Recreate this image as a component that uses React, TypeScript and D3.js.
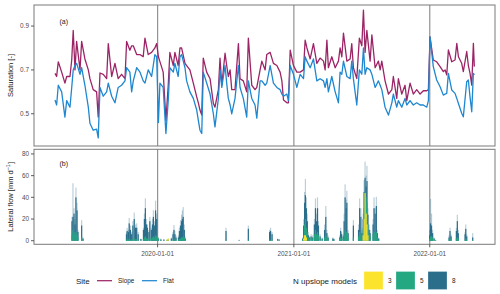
import React from "react";
import * as d3 from "d3";

// ---- Saturation data (decimal year, slope, flat) ----
const satTime = [
  2019.245, 2019.257, 2019.269, 2019.294, 2019.318, 2019.331, 2019.355, 2019.368, 2019.379, 2019.392,
  2019.404, 2019.429, 2019.441, 2019.465, 2019.49, 2019.502, 2019.526, 2019.551, 2019.563, 2019.576,
  2019.6, 2019.625, 2019.637, 2019.662, 2019.686, 2019.71, 2019.735, 2019.76, 2019.772, 2019.796,
  2019.809, 2019.821, 2019.846, 2019.87, 2019.894, 2019.907, 2019.931, 2019.956, 2019.98, 2019.993,
  2020.006, 2020.017, 2020.041, 2020.061, 2020.078, 2020.09, 2020.115, 2020.127, 2020.151, 2020.164,
  2020.176, 2020.201, 2020.213, 2020.237, 2020.262, 2020.287, 2020.299, 2020.311, 2020.324, 2020.335,
  2020.36, 2020.385, 2020.409, 2020.421, 2020.446, 2020.458, 2020.471, 2020.495, 2020.507, 2020.519,
  2020.532, 2020.544, 2020.568, 2020.593, 2020.605, 2020.629, 2020.654, 2020.666, 2020.691, 2020.715,
  2020.728, 2020.752, 2020.765, 2020.789, 2020.801, 2020.826, 2020.85, 2020.875, 2020.899, 2020.912,
  2020.924, 2020.949, 2020.96, 2020.973, 2020.997, 2021.022, 2021.046, 2021.071, 2021.083, 2021.096,
  2021.12, 2021.144, 2021.169, 2021.193, 2021.218, 2021.23, 2021.243, 2021.254, 2021.279, 2021.304,
  2021.328, 2021.34, 2021.353, 2021.365, 2021.39, 2021.414, 2021.426, 2021.438, 2021.463, 2021.482,
  2021.5, 2021.512, 2021.524, 2021.537, 2021.561, 2021.574, 2021.598, 2021.622, 2021.635, 2021.647,
  2021.671, 2021.696, 2021.721, 2021.732, 2021.757, 2021.769, 2021.794, 2021.818, 2021.831, 2021.855,
  2021.879, 2021.904, 2021.929, 2021.953, 2021.978, 2021.99, 2022.002, 2022.026, 2022.051, 2022.076,
  2022.1, 2022.113, 2022.125, 2022.137, 2022.162, 2022.186, 2022.199, 2022.211, 2022.235, 2022.247,
  2022.272, 2022.284, 2022.296, 2022.309, 2022.321, 2022.328,
];
const satSlope = [
  0.684, 0.67, 0.737, 0.69, 0.64, 0.67, 0.67, 0.745, 0.88, 0.7,
  0.83, 0.7, 0.83, 0.75, 0.7, 0.66, 0.61, 0.6, 0.485, 0.686,
  0.68, 0.66, 0.82, 0.67, 0.73, 0.66, 0.68, 0.66, 0.83, 0.79,
  0.81, 0.81, 0.77, 0.77, 0.76, 0.845, 0.77, 0.78, 0.8, 0.82,
  0.76, 0.738, 0.69, 0.47, 0.63, 0.78, 0.72, 0.78, 0.72, 0.8,
  0.8, 0.73, 0.72, 0.7, 0.64, 0.577, 0.55, 0.517, 0.494, 0.754,
  0.69, 0.66, 0.548, 0.53, 0.61, 0.754, 0.63, 0.776, 0.72, 0.67,
  0.7, 0.61, 0.61, 0.82, 0.66, 0.65, 0.6, 0.845, 0.63, 0.61,
  0.62, 0.7, 0.74, 0.7, 0.77, 0.78, 0.73, 0.72, 0.69, 0.65,
  0.563, 0.55, 0.55, 0.79, 0.72, 0.69, 0.69, 0.7, 0.836, 0.8,
  0.75, 0.82, 0.73, 0.754, 0.74, 0.7, 0.836, 0.71, 0.76, 0.71,
  0.74, 0.8, 0.76, 0.868, 0.74, 0.75, 0.82, 0.71, 0.66, 0.845,
  0.81, 0.973, 0.78, 0.88, 0.74, 0.86, 0.71, 0.74, 0.7, 0.74,
  0.65, 0.59, 0.61, 0.67, 0.57, 0.66, 0.59, 0.63, 0.56, 0.64,
  0.59, 0.61, 0.59, 0.605, 0.605, 0.61, 0.85, 0.745, 0.737, 0.715,
  0.692, 0.7, 0.677, 0.791, 0.737, 0.745, 0.821, 0.76, 0.73, 0.692,
  0.784, 0.72, 0.685, 0.631, 0.821, 0.715,
];
const satFlat = [
  0.563, 0.54, 0.63, 0.6, 0.485, 0.56, 0.53, 0.62, 0.7, 0.72,
  0.73, 0.68, 0.71, 0.63, 0.53, 0.457, 0.425, 0.43, 0.39, 0.62,
  0.58, 0.6, 0.64, 0.58, 0.55, 0.62, 0.63, 0.65, 0.71, 0.69,
  0.6, 0.65, 0.71, 0.69, 0.65, 0.64, 0.7, 0.67, 0.77, 0.76,
  0.46, 0.64, 0.62, 0.41, 0.56, 0.71, 0.69, 0.73, 0.67, 0.76,
  0.77, 0.71, 0.65, 0.6, 0.57, 0.517, 0.47, 0.425, 0.41, 0.69,
  0.64, 0.59, 0.5, 0.44, 0.57, 0.7, 0.62, 0.72, 0.64, 0.57,
  0.54, 0.5, 0.57, 0.72, 0.62, 0.57, 0.485, 0.65, 0.57, 0.54,
  0.48, 0.65, 0.65, 0.63, 0.64, 0.72, 0.64, 0.62, 0.61, 0.59,
  0.58, 0.59, 0.56, 0.72, 0.68, 0.62, 0.68, 0.66, 0.76, 0.74,
  0.71, 0.75, 0.65, 0.66, 0.65, 0.62, 0.66, 0.6, 0.67, 0.6,
  0.55, 0.69, 0.68, 0.74, 0.67, 0.66, 0.74, 0.66, 0.54, 0.7,
  0.68, 0.8, 0.68, 0.71, 0.7, 0.68, 0.62, 0.65, 0.63, 0.61,
  0.53, 0.494, 0.55, 0.59, 0.53, 0.56, 0.53, 0.57, 0.54, 0.56,
  0.54, 0.55, 0.54, 0.54, 0.53, 0.56, 0.85, 0.715, 0.654, 0.623,
  0.585, 0.59, 0.593, 0.684, 0.608, 0.593, 0.57, 0.547, 0.502, 0.486,
  0.646, 0.654, 0.578, 0.509, 0.684, 0.677,
];

// ---- Lateral flow data (decimal year; light envelope, 8, 5, 3 models) ----
const flowTime = [
  2019.37, 2019.377, 2019.385, 2019.392, 2019.399, 2019.407, 2019.414, 2019.441, 2019.451,
  2019.771, 2019.776, 2019.785, 2019.791, 2019.8, 2019.809, 2019.818, 2019.828, 2019.837, 2019.846,
  2019.857, 2019.877, 2019.896, 2019.903, 2019.91, 2019.918, 2019.925, 2019.936, 2019.943, 2019.954,
  2019.962, 2019.969, 2019.976, 2019.985, 2019.993, 2020.006, 2020.024, 2020.046, 2020.068, 2020.078,
  2020.101, 2020.113, 2020.12, 2020.127, 2020.135, 2020.153, 2020.16, 2020.168, 2020.176, 2020.182,
  2020.188, 2020.196, 2020.203, 2020.502, 2020.598, 2020.666, 2020.822, 2020.829, 2020.84, 2020.881,
  2020.892, 2021.065, 2021.072, 2021.079, 2021.085, 2021.092, 2021.099, 2021.107, 2021.116, 2021.127,
  2021.138, 2021.151, 2021.159, 2021.166, 2021.174, 2021.181, 2021.193, 2021.208, 2021.226, 2021.235,
  2021.243, 2021.252, 2021.287, 2021.294, 2021.337, 2021.344, 2021.351, 2021.363, 2021.37, 2021.377,
  2021.385, 2021.39, 2021.399, 2021.438, 2021.476, 2021.484, 2021.493, 2021.501, 2021.51, 2021.517,
  2021.524, 2021.532, 2021.538, 2021.545, 2021.554, 2021.561, 2021.583, 2021.59, 2021.598, 2021.607,
  2021.614, 2021.624, 2021.999, 2022.006, 2022.013, 2022.021, 2022.032, 2022.043, 2022.142, 2022.149,
  2022.157, 2022.196, 2022.203, 2022.21, 2022.26, 2022.265, 2022.272, 2022.316,
];
const flowMax = [
  22, 53, 30, 20, 49, 35, 10, 19, 3,
  8, 12, 10, 21, 14, 8, 18, 26, 15, 16,
  8, 2, 12, 25, 39, 20, 15, 10, 22, 12,
  20, 28, 18, 37, 25, 3, 2, 1.5, 1, 2,
  3, 8, 14.5, 9, 5, 5, 12, 19, 24, 28,
  31, 15, 4, 12, 1, 14, 10, 12, 8, 2,
  1.5, 3, 20, 45, 57, 40, 25, 8, 4, 6,
  5, 20, 39, 25, 40, 18, 6, 3, 15, 32,
  10, 5, 3, 2, 5, 12, 8, 6, 25, 52,
  38, 46, 10, 19, 15, 39, 30, 10, 25, 56,
  73, 60, 69, 30, 15, 10, 20, 40, 30, 40.5,
  10, 3, 10, 38.5, 25, 10, 3, 1, 5, 12,
  6, 12, 24, 10, 8, 15, 6, 7,
];
const flow8 = [
  18, 22, 25, 15, 40, 28, 8, 14, 2,
  6, 9, 8, 16, 10, 6, 14, 20, 12, 12,
  6, 1.5, 10, 20, 30, 15, 12, 8, 18, 10,
  15, 22, 14, 28, 20, 2, 1, 1, 0.5, 1,
  2, 6, 10, 6, 3, 3, 9, 14, 18, 20,
  22, 10, 2, 9, 0.5, 11, 8, 9, 6, 1.5,
  1, 2, 14, 35, 42, 30, 18, 5, 3, 4,
  3, 15, 30, 18, 30, 14, 4, 2, 10, 22,
  7, 3, 2, 1.5, 3, 9, 6, 4, 18, 40,
  30, 35, 7, 14, 10, 30, 22, 7, 20, 45,
  58, 50, 55, 24, 10, 7, 15, 30, 25, 32,
  7, 2, 5, 16, 14, 7, 2, 0.5, 3, 9,
  4, 9, 18, 7, 6, 11, 4, 3,
];
const flow5 = [
  5, 10, 8, 6, 8, 6, 3, 3, 1,
  1, 1.5, 1, 2, 1, 1, 1.5, 2, 1.5, 1.5,
  1, 0.5, 1.5, 3, 4, 2.5, 2, 1.5, 3, 2,
  3, 4, 3, 5, 4, 2, 1, 0.5, 0.5, 1,
  0.5, 1, 1, 1, 1, 1, 1.5, 2, 3, 3,
  4, 3, 1, 1, 0, 1, 1, 1, 1, 0,
  0, 1, 5, 15, 20, 12, 8, 3, 2, 3,
  2, 6, 10, 6, 8, 5, 2, 1, 3, 5,
  3, 2, 1, 1, 2, 3, 2, 2, 5, 10,
  8, 8, 3, 3, 4, 8, 6, 3, 12, 30,
  45, 40, 35, 15, 6, 4, 6, 8, 6, 8,
  3, 1, 2, 4, 4, 3, 1, 0, 1, 2,
  1, 2, 3, 2, 1, 2, 1, 0.5,
];
const flow3 = [
  0, 0, 0, 0, 0, 0, 0, 0, 0,
  0, 0, 0, 0, 0, 0, 0, 0, 0, 0,
  0, 0, 0, 0, 0, 0, 0, 0, 0, 0,
  0, 0, 0, 0, 0, 0, 0, 0, 1, 2,
  0, 0, 0, 0, 0, 0, 0, 0, 0, 0,
  0, 0, 0, 0, 0, 0, 0, 0, 0, 0,
  0, 0, 2, 5, 5, 3, 0, 0, 0, 0,
  0, 0, 0, 0, 0, 0, 0, 0, 0, 0,
  0, 0, 0, 0, 0, 0, 0, 0, 0, 0,
  0, 0, 0, 0, 0, 0, 0, 0, 5, 20,
  44, 25, 15, 5, 0, 0, 0, 0, 0, 0,
  0, 0, 0, 0, 0, 0, 0, 0, 0, 0,
  0, 0, 0, 0, 0, 0, 0, 0,
];

const satTicks = [0.5, 0.7, 0.9];
const flowTicks = [0, 20, 40, 60, 80];
const yearTicks = [2020, 2021, 2022];
const siteLabels = ["Slope", "Flat"];
const modelLabels = ["3", "5", "8"];

const COL_SLOPE = "#9C2466";
const COL_FLAT = "#1E87D0";
const COL_3 = "#FDE42C";
const COL_5 = "#23A881";
const COL_8 = "#2A6E8C";

const toDate = (t: number) => {
  const y = Math.floor(t);
  const s = Date.UTC(y, 0, 1);
  const e = Date.UTC(y + 1, 0, 1);
  return new Date(s + (t - y) * (e - s));
};

const FONT = "'Liberation Sans', Arial, Helvetica, sans-serif";

export default function App() {
  const L = 34, R = 495;
  const aTop = 5, aBot = 146;
  const bTop = 149.3, bBot = 244.3;

  const x = d3.scaleUtc().domain([toDate(2019.0904), toDate(2022.4801)]).range([L, R]);
  const ya = d3.scaleLinear().domain([0.353, 0.996]).range([aBot, aTop]);
  const yb = d3.scaleLinear().domain([-3.3, 84.3]).range([bBot, bTop]);

  const satData = satTime.map((t, i) => ({ d: toDate(t), s: satSlope[i], f: satFlat[i] }));
  const lineS = d3.line<any>().x((p) => x(p.d)).y((p) => ya(p.s));
  const lineF = d3.line<any>().x((p) => x(p.d)).y((p) => ya(p.f));

  const flowData = flowTime.map((t, i) => ({
    d: toDate(t), mx: flowMax[i], v8: flow8[i], v5: flow5[i], v3: flow3[i],
  }));
  const bw = 1.2;

  const bar = (d: Date, v: number, fill: string, op: number, key: string) =>
    v > 0 ? (
      <rect key={key} x={x(d) - bw / 2} y={yb(v)} width={bw} height={yb(0) - yb(v)} fill={fill} opacity={op} />
    ) : null;

  const tickCol = "#4D4D4D";
  const border = "#7A7A7A";
  const vline = "#939393";

  return (
    <svg width={500} height={294} style={{ position: "fixed", left: 0, top: 0, background: "#fff" }} fontFamily={FONT}>
      <rect x={0} y={0} width={500} height={294} fill="#fff" />
      {/* Panel a */}
      <rect x={L} y={aTop} width={R - L} height={aBot - aTop} fill="#fff" />
      <defs>
        <clipPath id="ca"><rect x={L} y={aTop} width={R - L} height={aBot - aTop} /></clipPath>
        <clipPath id="cb"><rect x={L} y={bTop} width={R - L} height={bBot - bTop} /></clipPath>
      </defs>
      {yearTicks.map((yr) => (
        <line key={"va" + yr} x1={x(toDate(yr))} x2={x(toDate(yr))} y1={aTop} y2={aBot} stroke={vline} strokeWidth={1.2} />
      ))}
      <g clipPath="url(#ca)" fill="none" strokeWidth={1.3} strokeLinejoin="round">
        <path d={lineS(satData) || ""} stroke={COL_SLOPE} />
        <path d={lineF(satData) || ""} stroke={COL_FLAT} />
      </g>
      <rect x={L} y={aTop} width={R - L} height={aBot - aTop} fill="none" stroke={border} strokeWidth={1} />
      {satTicks.map((v) => (
        <g key={"ta" + v}>
          <line x1={L - 3} x2={L} y1={ya(v)} y2={ya(v)} stroke="#333" strokeWidth={0.8} />
          <text x={L - 5} y={ya(v)} dy="0.35em" textAnchor="end" fontSize={6.4} fill={tickCol}>{v.toFixed(1)}</text>
        </g>
      ))}
      <text x={59.5} y={24} fontSize={7} fill="#1a1a1a">(a)</text>
      <text transform={`translate(12.5,${(aTop + aBot) / 2}) rotate(-90)`} textAnchor="middle" fontSize={7.5} fill="#1a1a1a">Saturation [-]</text>

      {/* Panel b */}
      {yearTicks.map((yr) => (
        <line key={"vb" + yr} x1={x(toDate(yr))} x2={x(toDate(yr))} y1={bTop} y2={bBot} stroke={vline} strokeWidth={1.2} />
      ))}
      <g clipPath="url(#cb)">
        {flowData.map((p, i) => bar(p.d, p.mx, COL_8, 0.32, "m" + i))}
        {flowData.map((p, i) => bar(p.d, p.v8, COL_8, 1, "e" + i))}
        {flowData.map((p, i) => bar(p.d, p.v5, COL_5, 0.9, "f" + i))}
        {flowData.map((p, i) => bar(p.d, p.v3, COL_3, 0.95, "t" + i))}
      </g>
      <rect x={L} y={bTop} width={R - L} height={bBot - bTop} fill="none" stroke={border} strokeWidth={1} />
      {flowTicks.map((v) => (
        <g key={"tb" + v}>
          <line x1={L - 3} x2={L} y1={yb(v)} y2={yb(v)} stroke="#333" strokeWidth={0.8} />
          <text x={L - 5} y={yb(v)} dy="0.35em" textAnchor="end" fontSize={6.4} fill={tickCol}>{v}</text>
        </g>
      ))}
      {yearTicks.map((yr) => (
        <g key={"tx" + yr}>
          <line x1={x(toDate(yr))} x2={x(toDate(yr))} y1={bBot} y2={bBot + 3} stroke="#333" strokeWidth={0.8} />
          <text x={x(toDate(yr))} y={bBot + 12} textAnchor="middle" fontSize={6.4} fill={tickCol}>{`${yr}-01-01`}</text>
        </g>
      ))}
      <text x={59.5} y={165.5} fontSize={7} fill="#1a1a1a">(b)</text>
      <text transform={`translate(12.5,${(bTop + bBot) / 2}) rotate(-90)`} textAnchor="middle" fontSize={7.5} fill="#1a1a1a">
        Lateral flow [mm d<tspan dy="-3" fontSize={5.5}>−1</tspan><tspan dy="3">]</tspan>
      </text>

      {/* Legends */}
      <text x={76} y={283.5} fontSize={8} fill="#1a1a1a">Site</text>
      {siteLabels.map((lab, i) => {
        const x0 = 97 + i * 45;
        return (
          <g key={lab}>
            <line x1={x0} x2={x0 + 15} y1={280.7} y2={280.7} stroke={i === 0 ? COL_SLOPE : COL_FLAT} strokeWidth={1.25} />
            <text x={x0 + 21} y={283} fontSize={6.4} fill="#1a1a1a">{lab}</text>
          </g>
        );
      })}
      <text x={293} y={283.5} fontSize={8} fill="#1a1a1a">N upslope models</text>
      {modelLabels.map((lab, i) => {
        const x0 = 364 + i * 32;
        const c = [COL_3, COL_5, COL_8][i];
        return (
          <g key={lab}>
            <rect x={x0} y={271.5} width={19} height={18} fill={c} stroke="#ffffff" strokeOpacity={0.4} strokeWidth={0.6} />
            <text x={x0 + 24} y={283} fontSize={6.4} fill="#1a1a1a">{lab}</text>
          </g>
        );
      })}
    </svg>
  );
}
